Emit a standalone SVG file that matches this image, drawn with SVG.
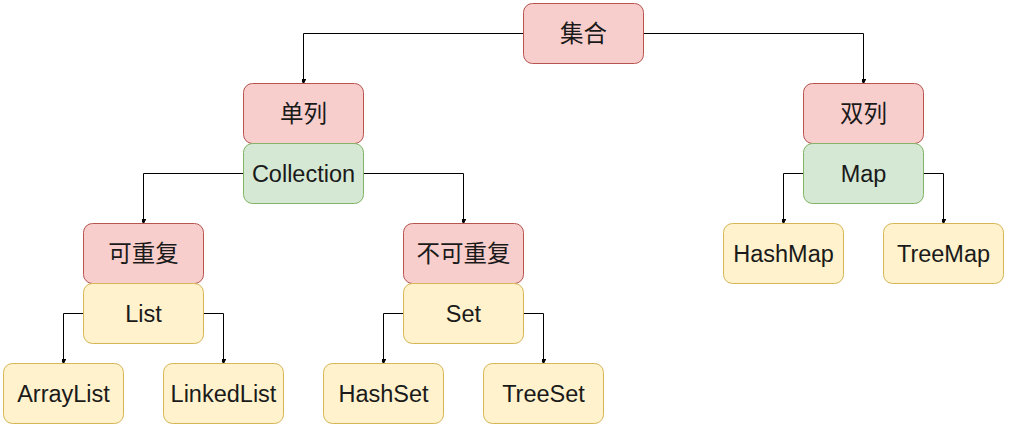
<svg xmlns="http://www.w3.org/2000/svg" width="1011" height="431" viewBox="0 0 1011 431">
<style>
.n rect{stroke-width:1}
.r rect{fill:#f8cecc;stroke:#b85450}
.g rect{fill:#d5e8d4;stroke:#82b366}
.y rect{fill:#fff2cc;stroke:#d6b656}
.n text{font-family:"Liberation Sans","Noto Sans CJK SC",sans-serif;font-size:23.5px;fill:#1a1a1a;text-anchor:middle;dominant-baseline:central}
.c path{fill:none;stroke:#000;stroke-width:1;marker-end:url(#a)}
</style>
<defs>
<marker id="a" markerUnits="userSpaceOnUse" markerWidth="10" markerHeight="10" viewBox="-5 -8 10 10" refX="0" refY="0" orient="auto-start-reverse">
<path d="M-3.5,-7 L0,0 L3.5,-7 L0,-5.2 Z" fill="#000" stroke="#000" stroke-width="1" transform="rotate(-90)"/>
</marker>
</defs>
<g class="c" id="connectors">
<path d="M523.5,33.5 H303.5 V83.5"/>
<path d="M643.5,33.5 H863.5 V83.5"/>
<path d="M243.5,173.5 H143.5 V223.5"/>
<path d="M363.5,173.5 H463.5 V223.5"/>
<path d="M83.5,313.5 H63.5 V363.5"/>
<path d="M203.5,313.5 H223.5 V363.5"/>
<path d="M403.5,313.5 H383.5 V363.5"/>
<path d="M523.5,313.5 H543.5 V363.5"/>
<path d="M803.5,173.5 H783.5 V223.5"/>
<path d="M923.5,173.5 H943.5 V223.5"/>
</g>
<g id="jihe" class="n r"><rect x="523.5" y="3.5" width="120" height="60" rx="9"/><text x="583.5" y="33.5">集合</text></g>
<g id="danlie" class="n r"><rect x="243.5" y="83.5" width="120" height="60" rx="9"/><text x="303.5" y="113.5">单列</text></g>
<g id="collection" class="n g"><rect x="243.5" y="143.5" width="120" height="60" rx="9"/><text x="303.5" y="173.5">Collection</text></g>
<g id="shuanglie" class="n r"><rect x="803.5" y="83.5" width="120" height="60" rx="9"/><text x="863.5" y="113.5">双列</text></g>
<g id="map" class="n g"><rect x="803.5" y="143.5" width="120" height="60" rx="9"/><text x="863.5" y="173.5">Map</text></g>
<g id="kechongfu" class="n r"><rect x="83.5" y="223.5" width="120" height="60" rx="9"/><text x="143.5" y="253.5">可重复</text></g>
<g id="list" class="n y"><rect x="83.5" y="283.5" width="120" height="60" rx="9"/><text x="143.5" y="313.5">List</text></g>
<g id="bukechongfu" class="n r"><rect x="403.5" y="223.5" width="120" height="60" rx="9"/><text x="463.5" y="253.5">不可重复</text></g>
<g id="set" class="n y"><rect x="403.5" y="283.5" width="120" height="60" rx="9"/><text x="463.5" y="313.5">Set</text></g>
<g id="arraylist" class="n y"><rect x="3.5" y="363.5" width="120" height="60" rx="9"/><text x="63.5" y="393.5">ArrayList</text></g>
<g id="linkedlist" class="n y"><rect x="163.5" y="363.5" width="120" height="60" rx="9"/><text x="223.5" y="393.5">LinkedList</text></g>
<g id="hashset" class="n y"><rect x="323.5" y="363.5" width="120" height="60" rx="9"/><text x="383.5" y="393.5">HashSet</text></g>
<g id="treeset" class="n y"><rect x="483.5" y="363.5" width="120" height="60" rx="9"/><text x="543.5" y="393.5">TreeSet</text></g>
<g id="hashmap" class="n y"><rect x="723.5" y="223.5" width="120" height="60" rx="9"/><text x="783.5" y="253.5">HashMap</text></g>
<g id="treemap" class="n y"><rect x="883.5" y="223.5" width="120" height="60" rx="9"/><text x="943.5" y="253.5">TreeMap</text></g>
</svg>
